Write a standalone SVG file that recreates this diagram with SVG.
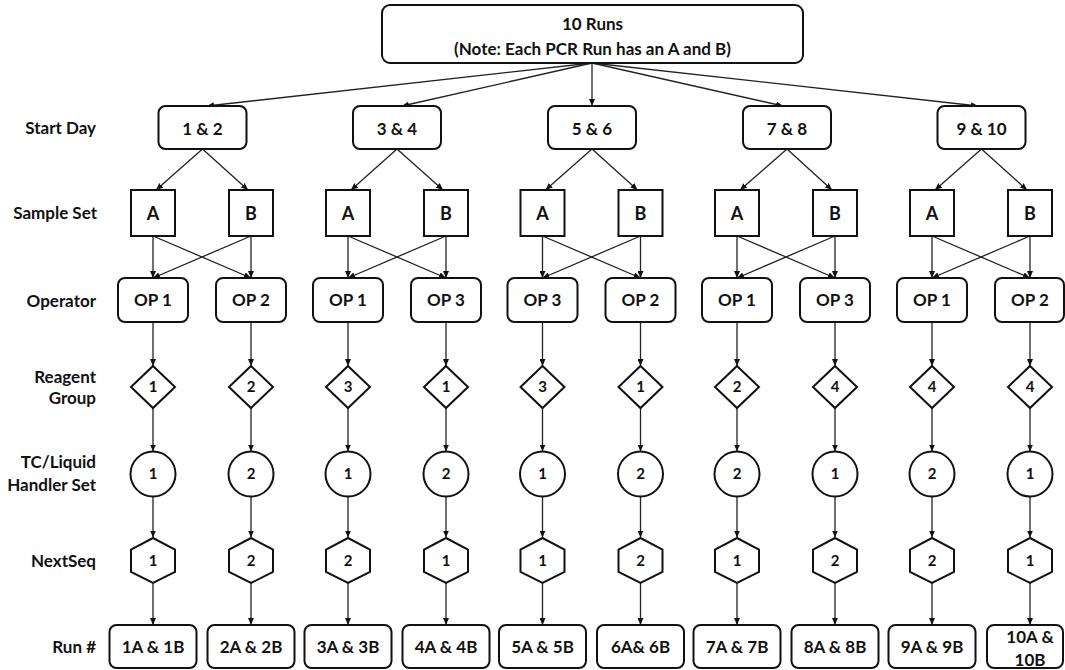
<svg xmlns="http://www.w3.org/2000/svg" width="1065" height="670" viewBox="0 0 1065 670">
<style>
text{font-family:Lato,"Liberation Sans",sans-serif;font-weight:bold;fill:#111;text-anchor:middle}
.lab{text-anchor:end;font-size:17px}
.t{font-size:17px}
.s{font-size:18px}
.n{font-size:15px}
.box{fill:#fff;stroke:#111;stroke-width:2}
.c line{stroke:#222;stroke-width:1.3;marker-end:url(#ah)}
</style>
<defs>
<marker id="ah" viewBox="0 0 7 6" refX="7" refY="3" markerWidth="7" markerHeight="6" markerUnits="userSpaceOnUse" orient="auto"><path d="M0,0 L7,3 L0,6 Z" fill="#111"/></marker>
<path id="dia" d="M0,-21 L22,0 L0,21 L-22,0 Z"/>
<path id="hex" d="M0,-22.5 L22,-11 L22,11.5 L0,22.5 L-22,11.5 L-22,-11 Z"/>
</defs>

<g id="row-labels">
<text class="lab" x="96" y="134">Start Day</text>
<text class="lab" x="97" y="219">Sample Set</text>
<text class="lab" x="96" y="307">Operator</text>
<text class="lab" x="96" y="383">Reagent</text>
<text class="lab" x="96" y="404">Group</text>
<text class="lab" x="96" y="468">TC/Liquid</text>
<text class="lab" x="96" y="491">Handler Set</text>
<text class="lab" x="96" y="567">NextSeq</text>
<text class="lab" x="96" y="653">Run #</text>
</g>

<g id="connectors" class="c">
<line x1="592" y1="63" x2="207" y2="106"/>
<line x1="592" y1="63" x2="402" y2="106"/>
<line x1="592" y1="63" x2="592" y2="106"/>
<line x1="592" y1="63" x2="783" y2="106"/>
<line x1="592" y1="63" x2="978" y2="106"/>

<line x1="202.5" y1="149" x2="156" y2="190"/>
<line x1="202.5" y1="149" x2="248" y2="190"/>
<line x1="397" y1="149" x2="351" y2="190"/>
<line x1="397" y1="149" x2="443" y2="190"/>
<line x1="592" y1="149" x2="545.5" y2="190"/>
<line x1="592" y1="149" x2="637.5" y2="190"/>
<line x1="787" y1="149" x2="740" y2="190"/>
<line x1="787" y1="149" x2="832" y2="190"/>
<line x1="981.5" y1="149" x2="935" y2="190"/>
<line x1="981.5" y1="149" x2="1027" y2="190"/>

<line x1="153" y1="236" x2="153" y2="278"/>
<line x1="153" y1="236" x2="251" y2="278"/>
<line x1="251" y1="236" x2="251" y2="278"/>
<line x1="251" y1="236" x2="153" y2="278"/>
<line x1="348" y1="236" x2="348" y2="278"/>
<line x1="348" y1="236" x2="446" y2="278"/>
<line x1="446" y1="236" x2="446" y2="278"/>
<line x1="446" y1="236" x2="348" y2="278"/>
<line x1="542.5" y1="236" x2="542.5" y2="278"/>
<line x1="542.5" y1="236" x2="640.5" y2="278"/>
<line x1="640.5" y1="236" x2="640.5" y2="278"/>
<line x1="640.5" y1="236" x2="542.5" y2="278"/>
<line x1="737" y1="236" x2="737" y2="278"/>
<line x1="737" y1="236" x2="835" y2="278"/>
<line x1="835" y1="236" x2="835" y2="278"/>
<line x1="835" y1="236" x2="737" y2="278"/>
<line x1="932" y1="236" x2="932" y2="278"/>
<line x1="932" y1="236" x2="1030" y2="278"/>
<line x1="1030" y1="236" x2="1030" y2="278"/>
<line x1="1030" y1="236" x2="932" y2="278"/>

<line x1="153" y1="322" x2="153" y2="366"/><line x1="153" y1="408" x2="153" y2="451.5"/><line x1="153" y1="496.5" x2="153" y2="537.5"/><line x1="153" y1="583" x2="153" y2="625"/>
<line x1="251" y1="322" x2="251" y2="366"/><line x1="251" y1="408" x2="251" y2="451.5"/><line x1="251" y1="496.5" x2="251" y2="537.5"/><line x1="251" y1="583" x2="251" y2="625"/>
<line x1="348" y1="322" x2="348" y2="366"/><line x1="348" y1="408" x2="348" y2="451.5"/><line x1="348" y1="496.5" x2="348" y2="537.5"/><line x1="348" y1="583" x2="348" y2="625"/>
<line x1="446" y1="322" x2="446" y2="366"/><line x1="446" y1="408" x2="446" y2="451.5"/><line x1="446" y1="496.5" x2="446" y2="537.5"/><line x1="446" y1="583" x2="446" y2="625"/>
<line x1="542.5" y1="322" x2="542.5" y2="366"/><line x1="542.5" y1="408" x2="542.5" y2="451.5"/><line x1="542.5" y1="496.5" x2="542.5" y2="537.5"/><line x1="542.5" y1="583" x2="542.5" y2="625"/>
<line x1="640.5" y1="322" x2="640.5" y2="366"/><line x1="640.5" y1="408" x2="640.5" y2="451.5"/><line x1="640.5" y1="496.5" x2="640.5" y2="537.5"/><line x1="640.5" y1="583" x2="640.5" y2="625"/>
<line x1="737" y1="322" x2="737" y2="366"/><line x1="737" y1="408" x2="737" y2="451.5"/><line x1="737" y1="496.5" x2="737" y2="537.5"/><line x1="737" y1="583" x2="737" y2="625"/>
<line x1="835" y1="322" x2="835" y2="366"/><line x1="835" y1="408" x2="835" y2="451.5"/><line x1="835" y1="496.5" x2="835" y2="537.5"/><line x1="835" y1="583" x2="835" y2="625"/>
<line x1="932" y1="322" x2="932" y2="366"/><line x1="932" y1="408" x2="932" y2="451.5"/><line x1="932" y1="496.5" x2="932" y2="537.5"/><line x1="932" y1="583" x2="932" y2="625"/>
<line x1="1030" y1="322" x2="1030" y2="366"/><line x1="1030" y1="408" x2="1030" y2="451.5"/><line x1="1030" y1="496.5" x2="1030" y2="537.5"/><line x1="1030" y1="583" x2="1030" y2="625"/>
</g>

<g id="root"><rect class="box" x="382" y="5" width="421" height="58" rx="8"/><text class="t" x="592.5" y="30">10 Runs</text><text class="t" x="592.5" y="55">(Note: Each PCR Run has an A and B)</text></g>

<g id="day-1-2"><rect class="box" x="158.5" y="106" width="88" height="43" rx="7"/><text class="t" x="202.5" y="135">1 &amp; 2</text></g>
<g id="day-3-4"><rect class="box" x="353" y="106" width="88" height="43" rx="7"/><text class="t" x="397" y="135">3 &amp; 4</text></g>
<g id="day-5-6"><rect class="box" x="548" y="106" width="88" height="43" rx="7"/><text class="t" x="592" y="135">5 &amp; 6</text></g>
<g id="day-7-8"><rect class="box" x="743" y="106" width="88" height="43" rx="7"/><text class="t" x="787" y="135">7 &amp; 8</text></g>
<g id="day-9-10"><rect class="box" x="937.5" y="106" width="88" height="43" rx="7"/><text class="t" x="981.5" y="135">9 &amp; 10</text></g>

<g id="set-1A"><rect class="box" x="131" y="190" width="44" height="46"/><text class="s" x="153" y="220">A</text></g>
<g id="set-1B"><rect class="box" x="229" y="190" width="44" height="46"/><text class="s" x="251" y="220">B</text></g>
<g id="set-2A"><rect class="box" x="326" y="190" width="44" height="46"/><text class="s" x="348" y="220">A</text></g>
<g id="set-2B"><rect class="box" x="424" y="190" width="44" height="46"/><text class="s" x="446" y="220">B</text></g>
<g id="set-3A"><rect class="box" x="520.5" y="190" width="44" height="46"/><text class="s" x="542.5" y="220">A</text></g>
<g id="set-3B"><rect class="box" x="618.5" y="190" width="44" height="46"/><text class="s" x="640.5" y="220">B</text></g>
<g id="set-4A"><rect class="box" x="715" y="190" width="44" height="46"/><text class="s" x="737" y="220">A</text></g>
<g id="set-4B"><rect class="box" x="813" y="190" width="44" height="46"/><text class="s" x="835" y="220">B</text></g>
<g id="set-5A"><rect class="box" x="910" y="190" width="44" height="46"/><text class="s" x="932" y="220">A</text></g>
<g id="set-5B"><rect class="box" x="1008" y="190" width="44" height="46"/><text class="s" x="1030" y="220">B</text></g>

<g id="op-c1"><rect class="box" x="118" y="278" width="70" height="44" rx="7"/><text class="t" x="153" y="306">OP 1</text></g>
<g id="op-c2"><rect class="box" x="216" y="278" width="70" height="44" rx="7"/><text class="t" x="251" y="306">OP 2</text></g>
<g id="op-c3"><rect class="box" x="313" y="278" width="70" height="44" rx="7"/><text class="t" x="348" y="306">OP 1</text></g>
<g id="op-c4"><rect class="box" x="411" y="278" width="70" height="44" rx="7"/><text class="t" x="446" y="306">OP 3</text></g>
<g id="op-c5"><rect class="box" x="507.5" y="278" width="70" height="44" rx="7"/><text class="t" x="542.5" y="306">OP 3</text></g>
<g id="op-c6"><rect class="box" x="605.5" y="278" width="70" height="44" rx="7"/><text class="t" x="640.5" y="306">OP 2</text></g>
<g id="op-c7"><rect class="box" x="702" y="278" width="70" height="44" rx="7"/><text class="t" x="737" y="306">OP 1</text></g>
<g id="op-c8"><rect class="box" x="800" y="278" width="70" height="44" rx="7"/><text class="t" x="835" y="306">OP 3</text></g>
<g id="op-c9"><rect class="box" x="897" y="278" width="70" height="44" rx="7"/><text class="t" x="932" y="306">OP 1</text></g>
<g id="op-c10"><rect class="box" x="995" y="278" width="69" height="44" rx="7"/><text class="t" x="1030" y="306">OP 2</text></g>

<g id="reagent-c1"><use href="#dia" class="box" x="153" y="387"/><text class="n" x="153" y="392">1</text></g>
<g id="reagent-c2"><use href="#dia" class="box" x="251" y="387"/><text class="n" x="251" y="392">2</text></g>
<g id="reagent-c3"><use href="#dia" class="box" x="348" y="387"/><text class="n" x="348" y="392">3</text></g>
<g id="reagent-c4"><use href="#dia" class="box" x="446" y="387"/><text class="n" x="446" y="392">1</text></g>
<g id="reagent-c5"><use href="#dia" class="box" x="542.5" y="387"/><text class="n" x="542.5" y="392">3</text></g>
<g id="reagent-c6"><use href="#dia" class="box" x="640.5" y="387"/><text class="n" x="640.5" y="392">1</text></g>
<g id="reagent-c7"><use href="#dia" class="box" x="737" y="387"/><text class="n" x="737" y="392">2</text></g>
<g id="reagent-c8"><use href="#dia" class="box" x="835" y="387"/><text class="n" x="835" y="392">4</text></g>
<g id="reagent-c9"><use href="#dia" class="box" x="932" y="387"/><text class="n" x="932" y="392">4</text></g>
<g id="reagent-c10"><use href="#dia" class="box" x="1030" y="387"/><text class="n" x="1030" y="392">4</text></g>

<g id="tc-c1"><circle class="box" cx="153" cy="474" r="22.5"/><text class="n" x="153" y="479">1</text></g>
<g id="tc-c2"><circle class="box" cx="251" cy="474" r="22.5"/><text class="n" x="251" y="479">2</text></g>
<g id="tc-c3"><circle class="box" cx="348" cy="474" r="22.5"/><text class="n" x="348" y="479">1</text></g>
<g id="tc-c4"><circle class="box" cx="446" cy="474" r="22.5"/><text class="n" x="446" y="479">2</text></g>
<g id="tc-c5"><circle class="box" cx="542.5" cy="474" r="22.5"/><text class="n" x="542.5" y="479">1</text></g>
<g id="tc-c6"><circle class="box" cx="640.5" cy="474" r="22.5"/><text class="n" x="640.5" y="479">2</text></g>
<g id="tc-c7"><circle class="box" cx="737" cy="474" r="22.5"/><text class="n" x="737" y="479">2</text></g>
<g id="tc-c8"><circle class="box" cx="835" cy="474" r="22.5"/><text class="n" x="835" y="479">1</text></g>
<g id="tc-c9"><circle class="box" cx="932" cy="474" r="22.5"/><text class="n" x="932" y="479">2</text></g>
<g id="tc-c10"><circle class="box" cx="1030" cy="474" r="22.5"/><text class="n" x="1030" y="479">1</text></g>

<g id="nextseq-c1"><use href="#hex" class="box" x="153" y="560.5"/><text class="n" x="153" y="566">1</text></g>
<g id="nextseq-c2"><use href="#hex" class="box" x="251" y="560.5"/><text class="n" x="251" y="566">2</text></g>
<g id="nextseq-c3"><use href="#hex" class="box" x="348" y="560.5"/><text class="n" x="348" y="566">2</text></g>
<g id="nextseq-c4"><use href="#hex" class="box" x="446" y="560.5"/><text class="n" x="446" y="566">1</text></g>
<g id="nextseq-c5"><use href="#hex" class="box" x="542.5" y="560.5"/><text class="n" x="542.5" y="566">1</text></g>
<g id="nextseq-c6"><use href="#hex" class="box" x="640.5" y="560.5"/><text class="n" x="640.5" y="566">2</text></g>
<g id="nextseq-c7"><use href="#hex" class="box" x="737" y="560.5"/><text class="n" x="737" y="566">1</text></g>
<g id="nextseq-c8"><use href="#hex" class="box" x="835" y="560.5"/><text class="n" x="835" y="566">2</text></g>
<g id="nextseq-c9"><use href="#hex" class="box" x="932" y="560.5"/><text class="n" x="932" y="566">2</text></g>
<g id="nextseq-c10"><use href="#hex" class="box" x="1030" y="560.5"/><text class="n" x="1030" y="566">1</text></g>

<g id="run-1"><rect class="box" x="109.5" y="625" width="87" height="43" rx="7"/><text class="t" x="153" y="653">1A &amp; 1B</text></g>
<g id="run-2"><rect class="box" x="207.5" y="625" width="87" height="43" rx="7"/><text class="t" x="251" y="653">2A &amp; 2B</text></g>
<g id="run-3"><rect class="box" x="304.5" y="625" width="87" height="43" rx="7"/><text class="t" x="348" y="653">3A &amp; 3B</text></g>
<g id="run-4"><rect class="box" x="402.5" y="625" width="87" height="43" rx="7"/><text class="t" x="446" y="653">4A &amp; 4B</text></g>
<g id="run-5"><rect class="box" x="499" y="625" width="87" height="43" rx="7"/><text class="t" x="542.5" y="653">5A &amp; 5B</text></g>
<g id="run-6"><rect class="box" x="597" y="625" width="87" height="43" rx="7"/><text class="t" x="640.5" y="653">6A&amp; 6B</text></g>
<g id="run-7"><rect class="box" x="693.5" y="625" width="87" height="43" rx="7"/><text class="t" x="737" y="653">7A &amp; 7B</text></g>
<g id="run-8"><rect class="box" x="791.5" y="625" width="87" height="43" rx="7"/><text class="t" x="835" y="653">8A &amp; 8B</text></g>
<g id="run-9"><rect class="box" x="888.5" y="625" width="87" height="43" rx="7"/><text class="t" x="932" y="653">9A &amp; 9B</text></g>
<g id="run-10"><rect class="box" x="987" y="625" width="76" height="43" rx="7"/><text class="t" x="1030" y="643">10A &amp;</text><text class="t" x="1030" y="666">10B</text></g>
</svg>
